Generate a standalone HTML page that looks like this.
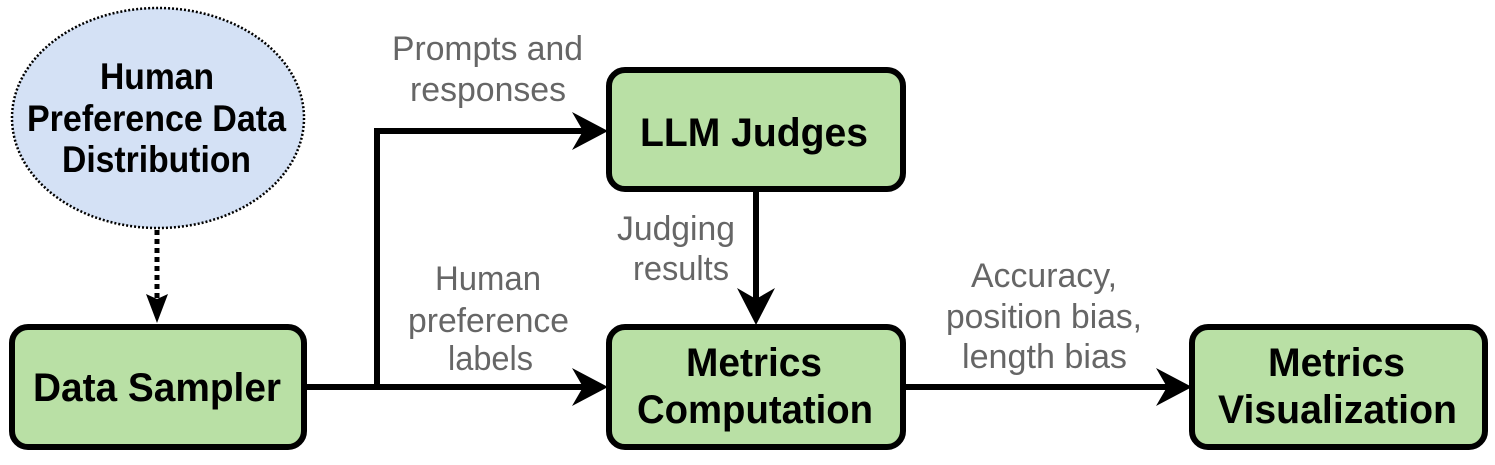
<!DOCTYPE html>
<html><head><style>html,body{margin:0;padding:0;background:#fff}</style></head>
<body>
<svg width="1495" height="460" viewBox="0 0 1495 460" xmlns="http://www.w3.org/2000/svg" font-family="Liberation Sans, Arial, sans-serif">
<ellipse cx="158" cy="118" rx="146" ry="110" fill="#d4e1f5" stroke="#000" stroke-width="2.5" stroke-dasharray="2,2"/>
<g font-weight="bold" font-size="37" fill="#000">
<text x="100" y="89" textLength="114" lengthAdjust="spacingAndGlyphs">Human</text>
<text x="27" y="131" textLength="259" lengthAdjust="spacingAndGlyphs">Preference Data</text>
<text x="62" y="172" textLength="189" lengthAdjust="spacingAndGlyphs">Distribution</text>
</g>
<line x1="157" y1="230" x2="157" y2="300" stroke="#000" stroke-width="5" stroke-dasharray="5,4"/>
<path d="M146,294 L157,299 L168,294 L157,323 Z" fill="#000"/>
<g fill="#b9e0a5" stroke="#000" stroke-width="6">
<rect x="12" y="327" width="292" height="120" rx="16"/>
<rect x="609" y="70" width="294" height="119" rx="16"/>
<rect x="609" y="327" width="294" height="120" rx="16"/>
<rect x="1192" y="327" width="293" height="120" rx="16"/>
</g>
<g font-weight="bold" font-size="40" fill="#000">
<text x="33" y="401" textLength="248" lengthAdjust="spacingAndGlyphs">Data Sampler</text>
<text x="640" y="146" textLength="228" lengthAdjust="spacingAndGlyphs">LLM Judges</text>
<text x="686" y="376" textLength="136" lengthAdjust="spacingAndGlyphs">Metrics</text>
<text x="637" y="423" textLength="236" lengthAdjust="spacingAndGlyphs">Computation</text>
<text x="1268" y="376" textLength="137" lengthAdjust="spacingAndGlyphs">Metrics</text>
<text x="1218" y="423" textLength="239" lengthAdjust="spacingAndGlyphs">Visualization</text>
</g>
<g stroke="#000" stroke-width="6" fill="none">
<polyline points="304,387 585,387"/>
<polyline points="377,387 377,131 585,131"/>
<line x1="756" y1="189" x2="756" y2="300"/>
<line x1="903" y1="387" x2="1170" y2="387"/>
</g>
<g fill="#000">
<path d="M572,112 L583,131 L572,150 L608,131 Z"/>
<path d="M572,368 L583,387 L572,406 L608,387 Z"/>
<path d="M737,288 L756,299 L775,288 L756,325 Z"/>
<path d="M1156,368 L1167,387 L1156,406 L1192,387 Z"/>
</g>
<g font-size="34" fill="#666">
<text x="392" y="60" textLength="191" lengthAdjust="spacingAndGlyphs">Prompts and</text>
<text x="410" y="101" textLength="156" lengthAdjust="spacingAndGlyphs">responses</text>
<text x="435" y="290" textLength="106" lengthAdjust="spacingAndGlyphs">Human</text>
<text x="408" y="332" textLength="161" lengthAdjust="spacingAndGlyphs">preference</text>
<text x="448" y="370" textLength="85" lengthAdjust="spacingAndGlyphs">labels</text>
<text x="617" y="240" textLength="118" lengthAdjust="spacingAndGlyphs">Judging</text>
<text x="633" y="280" textLength="96" lengthAdjust="spacingAndGlyphs">results</text>
<text x="971" y="287" textLength="146" lengthAdjust="spacingAndGlyphs">Accuracy,</text>
<text x="946" y="328" textLength="196" lengthAdjust="spacingAndGlyphs">position bias,</text>
<text x="962" y="368" textLength="165" lengthAdjust="spacingAndGlyphs">length bias</text>
</g>
</svg>
</body></html>
